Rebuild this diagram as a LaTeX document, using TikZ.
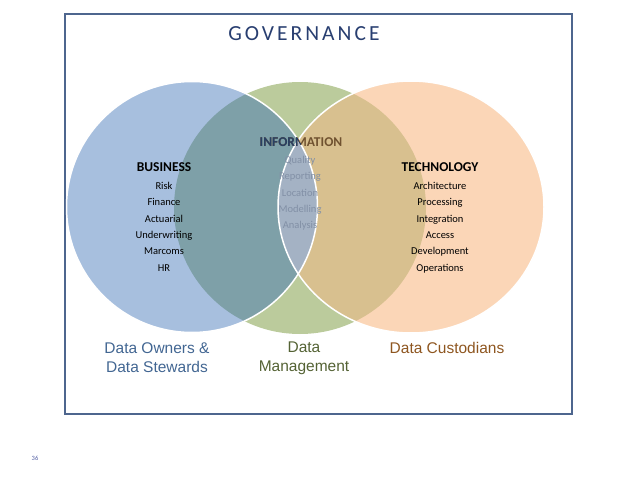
\documentclass[tikz,border=0pt]{standalone}
\usepackage{fontspec}
\setmainfont{Carlito}
\newfontfamily\labelfont{Liberation Sans}
\usepackage{tikz}
\usetikzlibrary{positioning}
\usepackage{xcolor}
\definecolor{framecol}{RGB}{78,102,142}
\definecolor{govcol}{RGB}{40,62,112}
\definecolor{bizfill}{RGB}{167,191,222}
\definecolor{infofill}{RGB}{187,203,156}
\definecolor{techfill}{RGB}{251,214,183}
\definecolor{bizinfo}{RGB}{126,160,168}
\definecolor{techinfo}{RGB}{216,192,143}
\definecolor{allthree}{RGB}{164,178,196}
\definecolor{infonavy}{RGB}{40,64,100}
\definecolor{infobrown}{RGB}{112,82,48}
\definecolor{lensgray}{RGB}{130,144,166}
\definecolor{ownerblue}{RGB}{66,102,146}
\definecolor{mgmtolive}{RGB}{84,98,52}
\definecolor{custbrown}{RGB}{142,86,32}
\definecolor{pagecol}{RGB}{84,96,164}

\begin{document}
\begin{tikzpicture}[x=1pt,y=-1pt,node distance=16.3pt]
\tikzstyle{heading} = [font=\fontsize{13.5}{15}\selectfont\bfseries, inner sep=0pt]
\tikzstyle{item} = [font=\fontsize{10.5}{12}\selectfont, inner sep=0pt, text height=7.5pt, text depth=2.2pt]
\tikzstyle{lensitem} = [item, text=lensgray]
\tikzstyle{role} = [font=\labelfont\fontsize{15.5}{19}\selectfont, align=center, inner sep=0pt]
\tikzstyle{rim} = [draw=white, line width=1.5pt]

\useasboundingbox (0,0) rectangle (638,479);
\draw[framecol, line width=2pt] (65,14) rectangle (572,414);

% the three circles
\fill[infofill] (300,208) circle [radius=126pt];
\fill[bizfill] (192,207) circle [radius=125.5pt];
\fill[techfill] (411,207) ellipse [x radius=133pt, y radius=126pt];
\begin{scope}
  \clip (300,208) circle [radius=126pt];
  \fill[bizinfo] (192,207) circle [radius=125.5pt];
  \fill[techinfo] (411,207) ellipse [x radius=133pt, y radius=126pt];
\end{scope}
\begin{scope}
  \clip (192,207) circle [radius=125.5pt];
  \fill[allthree] (411,207) ellipse [x radius=133pt, y radius=126pt];
\end{scope}
\draw[rim] (192,207) circle [radius=125.5pt];
\draw[rim] (411,207) ellipse [x radius=133pt, y radius=126pt];

\node[font=\fontsize{21.5}{24}\selectfont\addfontfeature{LetterSpace=14}, text=govcol] (gov) at (304,34) {GOVERNANCE};

% business
\node[heading] (biz) at (164,167) {BUSINESS};
\node[item] (risk) at (164,187) {Risk};
\node[item] (finance) [below of=risk] {Finance};
\node[item] (actuarial) [below of=finance] {Actuarial};
\node[item] (underwriting) [below of=actuarial] {Underwriting};
\node[item] (marcoms) [below of=underwriting] {Marcoms};
\node[item] (hr) [below of=marcoms] {HR};

% information
\node[heading, text=infobrown] (info) at (301,142) {INFORMATION};
\begin{scope}
  \clip (192,207) circle [radius=125.5pt];
  \node[heading, text=infonavy] (infoleft) at (301,142) {INFORMATION};
\end{scope}
\node[lensitem] (quality) at (300,161) {Quality};
\node[lensitem] (reporting) [below of=quality] {Reporting};
\node[lensitem] (location) [below of=reporting] {Location};
\node[lensitem] (modelling) [below of=location] {Modelling};
\node[lensitem] (analysis) [below of=modelling] {Analysis};

% technology
\node[heading] (tech) at (440,167) {TECHNOLOGY};
\node[item] (architecture) at (440,187) {Architecture};
\node[item] (processing) [below of=architecture] {Processing};
\node[item] (integration) [below of=processing] {Integration};
\node[item] (access) [below of=integration] {Access};
\node[item] (development) [below of=access] {Development};
\node[item] (operations) [below of=development] {Operations};

% roles
\node[role, text=ownerblue, anchor=north] (owners) at (157,342) {Data Owners \&\\Data Stewards};
\node[role, text=mgmtolive, anchor=north] (mgmt) at (304,342) {Data\\Management};
\node[role, text=custbrown, anchor=north] (custodians) at (447,342) {Data Custodians};

\node[font=\fontsize{6.5}{7}\selectfont, text=pagecol] (page) at (35,458) {36};
\end{tikzpicture}
\end{document}
